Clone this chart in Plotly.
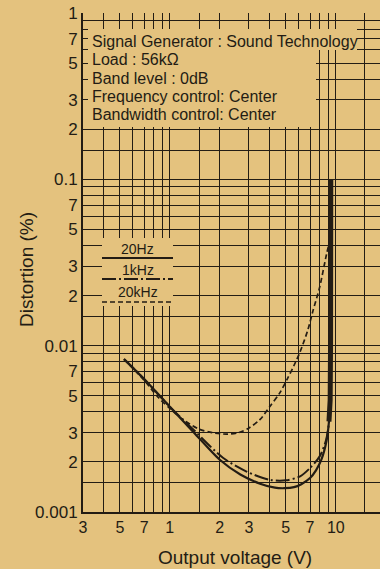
import plotly.graph_objects as go

# values: output voltage (V) vs distortion (%)
v_20hz = [0.53, 0.7, 1.0, 1.4, 2.0, 2.66, 3.5, 4.3, 4.9, 5.6, 6.2, 7.0, 7.6, 8.2, 8.8, 9.1, 9.25, 9.3, 9.33]
thd_20hz = [0.0083, 0.0063, 0.0043, 0.0030, 0.00206, 0.00168, 0.00148, 0.00140, 0.00139, 0.00141,
            0.00147, 0.00160, 0.00178, 0.00207, 0.00268, 0.0035, 0.0047, 0.010, 0.1]

v_1khz = [0.53, 0.7, 1.0, 1.4, 2.1, 2.9, 4.0, 5.0, 6.1, 7.0, 8.0, 8.75, 9.15, 9.3, 9.35]
thd_1khz = [0.0083, 0.0063, 0.0043, 0.0031, 0.00211, 0.00175, 0.00156, 0.00155, 0.00164,
            0.00184, 0.00216, 0.00272, 0.0036, 0.0047, 0.1]

v_20khz = [0.53, 0.7, 0.85, 1.0, 1.2, 1.5, 1.8, 2.2, 2.6, 3.0, 3.5, 4.0, 4.6, 5.1, 5.6, 6.1,
           6.8, 7.3, 8.0, 8.8, 9.25]
thd_20khz = [0.0083, 0.0062, 0.0049, 0.0042, 0.0036, 0.00315, 0.00300, 0.00294, 0.00300, 0.0032,
             0.0036, 0.0043, 0.0052, 0.0063, 0.0076, 0.0092, 0.0125, 0.0163, 0.0225, 0.0355, 0.0435]

x_grid = [0.3, 0.4, 0.5, 0.6, 0.7, 0.8, 0.9, 1, 1.5, 2, 3, 4, 5, 6, 7, 8, 9, 10, 15]
x_labels = {0.3: '3', 0.5: '5', 0.7: '7', 1: '1', 2: '2', 3: '3', 5: '5', 7: '7', 10: '10'}

y_mult = [1, 1.5, 2, 3, 4, 5, 6, 7, 8, 9]
y_grid = [round(d * m, 5) for d in [0.001, 0.01, 0.1] for m in y_mult] + [1]
y_labels = {0.001: '0.001', 0.002: '2', 0.003: '3', 0.005: '5', 0.007: '7',
            0.01: '0.01', 0.02: '2', 0.03: '3', 0.05: '5', 0.07: '7',
            0.1: '0.1', 0.2: '2', 0.3: '3', 0.5: '5', 0.7: '7', 1: '1'}

conditions = ['Signal Generator : Sound Technology', 'Load : 56k\u03a9', 'Band level : 0dB',
              'Frequency control: Center', 'Bandwidth control: Center']

BG = '#e4c27e'
INK = '#231c14'
FONT = 'Liberation Sans, Arial, sans-serif'

# plot area in pixels (figure is 380 x 569)
L, R, T, B = 83, 380, 13, 512


def px(x):
    return (x - L) / (R - L)


def py(y):
    return (B - y) / (B - T)


styles = {
    '20Hz': dict(color=INK, width=2.2, dash='solid'),
    '1kHz': dict(color=INK, width=2.0, dash='14px,3px,2px,3px'),
    '20kHz': dict(color=INK, width=1.7, dash='5px,3px'),
}

fig = go.Figure()
fig.add_trace(go.Scatter(x=v_20khz, y=thd_20khz, mode='lines', name='20kHz',
                         line=dict(shape='spline', smoothing=0.8, **styles['20kHz'])))
fig.add_trace(go.Scatter(x=v_1khz, y=thd_1khz, mode='lines', name='1kHz',
                         line=dict(shape='spline', smoothing=0.8, **styles['1kHz'])))
fig.add_trace(go.Scatter(x=v_20hz, y=thd_20hz, mode='lines', name='20Hz',
                         line=dict(shape='spline', smoothing=0.8, **styles['20Hz'])))
# the clipping rise is printed heavier
fig.add_trace(go.Scatter(x=v_20hz[-4:], y=thd_20hz[-4:], mode='lines', name='20Hz',
                         line=dict(color=INK, width=5)))

# blank patches of the paper behind the text blocks
patches = [(88, 29, 357, 50), (88, 50, 316, 127), (102, 238, 173, 306)]
for x0, y0, x1, y1 in patches:
    fig.add_shape(type='rect', xref='paper', yref='paper', x0=px(x0), x1=px(x1),
                  y0=py(y1), y1=py(y0), fillcolor=BG, line_width=0, layer='above')

ann = []
for i, t in enumerate(conditions):
    ann.append(dict(text=t, xref='paper', yref='paper', x=px(90), y=py(41.5 + i * 18.3),
                    xanchor='left', yanchor='middle', showarrow=False,
                    font=dict(size=16, color=INK, family=FONT)))

# legend: label above a sample of each line style
for name, ty, ly in [('20Hz', 249, 258), ('1kHz', 270, 279), ('20kHz', 292, 302)]:
    ann.append(dict(text=name, xref='paper', yref='paper', x=px(137.5), y=py(ty),
                    xanchor='center', yanchor='middle', showarrow=False,
                    font=dict(size=14, color=INK, family=FONT)))
    fig.add_shape(type='line', xref='paper', yref='paper', x0=px(102), x1=px(173),
                  y0=py(ly), y1=py(ly), line=styles[name], layer='above')

ann.append(dict(text='Output voltage (V)', xref='paper', yref='paper', x=px(235), y=py(557),
                xanchor='center', yanchor='middle', showarrow=False,
                font=dict(size=19, color=INK, family=FONT)))
ann.append(dict(text='Distortion (%)', xref='paper', yref='paper', x=px(26), y=py(270),
                xanchor='center', yanchor='middle', showarrow=False, textangle=-90,
                font=dict(size=19, color=INK, family=FONT)))

fig.update_layout(
    width=380, height=569,
    margin=dict(l=L, r=380 - R, t=T, b=569 - B),
    paper_bgcolor=BG, plot_bgcolor=BG,
    showlegend=False,
    annotations=ann,
    font=dict(family=FONT, color=INK, size=16),
)
fig.update_xaxes(type='log', range=[-0.5229, 1.2665], tickmode='array', tickvals=x_grid,
                 ticktext=[x_labels.get(v, '') for v in x_grid],
                 showgrid=True, gridcolor=INK, gridwidth=1.3, zeroline=False,
                 showline=True, linecolor=INK, linewidth=2, ticks='', ticklabelstandoff=0,
                 tickfont=dict(size=16))
fig.update_yaxes(type='log', range=[-3, 0], tickmode='array', tickvals=y_grid,
                 ticktext=[y_labels.get(v, '') for v in y_grid],
                 showgrid=True, gridcolor=INK, gridwidth=1.3, zeroline=False,
                 showline=True, linecolor=INK, linewidth=2, ticks='', ticklabelstandoff=0,
                 tickfont=dict(size=17))

# page body has a default 8px margin; drop it so the figure fills the window
fig.write_html('out.html', config={'displayModeBar': False},
               post_script="document.body.style.margin='0';")
